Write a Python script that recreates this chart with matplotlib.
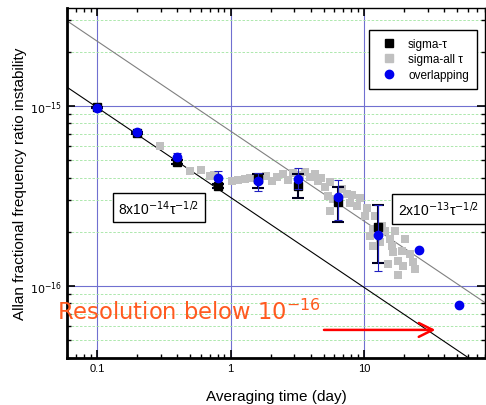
import numpy as np
import matplotlib
matplotlib.use('Agg')
import matplotlib.pyplot as plt
from matplotlib.ticker import LogLocator, NullFormatter, FixedLocator
from matplotlib.lines import Line2D

plt.rcParams['font.family'] = ['Liberation Sans', 'DejaVu Sans']
plt.rcParams['mathtext.fontset'] = 'dejavusans'

# averaging time (day)
tau = [0.1, 0.2, 0.4, 0.8, 1.6, 3.2, 6.4, 12.8]
tau_ov = [0.1, 0.2, 0.4, 0.8, 1.6, 3.2, 6.4, 12.8, 25.6, 51.2]

# sigma-tau (black squares) with error bars
sig = [0.98e-15, 0.71e-15, 0.487e-15, 0.36e-15, 0.393e-15, 0.357e-15, 0.294e-15, 0.212e-15]
sig_lo = [0.97e-15, 0.70e-15, 0.475e-15, 0.35e-15, 0.350e-15, 0.307e-15, 0.226e-15, 0.134e-15]
sig_hi = [0.99e-15, 0.72e-15, 0.50e-15, 0.37e-15, 0.419e-15, 0.419e-15, 0.353e-15, 0.283e-15]

# overlapping (blue circles) with error bars
ov = [0.975e-15, 0.714e-15, 0.519e-15, 0.397e-15, 0.382e-15, 0.393e-15, 0.311e-15, 0.192e-15, 0.159e-15, 0.785e-16]
ov_lo = [0.965e-15, 0.70e-15, 0.505e-15, 0.385e-15, 0.336e-15, 0.346e-15, 0.233e-15, 0.121e-15, 0.159e-15, 0.785e-16]
ov_hi = [0.985e-15, 0.73e-15, 0.548e-15, 0.433e-15, 0.424e-15, 0.451e-15, 0.385e-15, 0.281e-15, 0.159e-15, 0.785e-16]

# sigma-all tau (gray squares)
tau_all = [0.296, 0.497, 0.601, 0.702, 0.75, 1.03, 1.14, 1.28, 1.40, 1.85, 2.05, 2.23, 2.47,
           2.70, 2.94, 3.32, 3.62, 3.94, 4.30, 4.52, 4.76, 5.11, 5.56, 5.37, 5.86, 6.84,
           7.46, 8.13, 7.85, 8.87, 9.34, 5.56, 10.5, 10.2, 12.1, 11.7, 13.6, 14.4, 11.1,
           11.7, 15.7, 16.2, 16.5, 15.1, 18.0, 19.3, 20.3, 22.1, 23.3, 18.0, 19.6, 17.1,
           24.1, 13.2]
sig_all = [0.600, 0.435, 0.441, 0.408, 0.413, 0.383, 0.388, 0.393, 0.398, 0.408, 0.383, 0.403,
           0.419, 0.388, 0.424, 0.414, 0.430, 0.403, 0.419, 0.383, 0.398, 0.355, 0.378,
           0.316, 0.304, 0.346, 0.325, 0.321, 0.289, 0.278, 0.308, 0.261, 0.271, 0.245,
           0.245, 0.207, 0.216, 0.202, 0.190, 0.167, 0.182, 0.167, 0.155, 0.132, 0.138,
           0.156, 0.182, 0.151, 0.136, 0.115, 0.129, 0.202, 0.124, 0.175]
sig_all = [v * 1e-15 for v in sig_all]

# tau^-1/2 guide lines (coefficient at 1 day)
fit_black = 3.1e-16
fit_gray = 7.24e-16

fig = plt.figure(figsize=(4.86, 4.06), dpi=100)
ax = fig.add_axes([0.138, 0.116, 0.86, 0.862])

tt = np.logspace(np.log10(0.05), np.log10(100), 50)
ax.plot(tt, fit_black / np.sqrt(tt), color='black', lw=0.8, zorder=2)
ax.plot(tt, fit_gray / np.sqrt(tt), color='gray', lw=0.8, zorder=2)

ax.scatter(tau_all, sig_all, marker='s', s=40, color='#c0c0c0', zorder=3, linewidths=0)

s_arr = np.array(sig)
ax.errorbar(tau, sig, yerr=[s_arr - np.array(sig_lo), np.array(sig_hi) - s_arr],
            fmt='s', color='black', ms=6, ecolor='#000020', elinewidth=1.5, capsize=4,
            capthick=1.5, zorder=4)
o_arr = np.array(ov)
ax.errorbar(tau_ov, ov, yerr=[o_arr - np.array(ov_lo), np.array(ov_hi) - o_arr],
            fmt='o', color='#0000ee', ms=6, ecolor='#2020c0', elinewidth=0.8, capsize=3,
            capthick=0.8, zorder=5)

ax.set_xscale('log')
ax.set_yscale('log')
ax.set_xlim(0.0596, 80.5)
ax.set_ylim(3.98e-17, 3.5e-15)

ax.xaxis.set_major_locator(FixedLocator([0.1, 1, 10]))
ax.set_xticklabels(['0.1', '1', '10'])
ax.xaxis.set_minor_locator(LogLocator(base=10, subs=np.arange(2, 10)))
ax.xaxis.set_minor_formatter(NullFormatter())
ax.yaxis.set_major_locator(FixedLocator([1e-16, 1e-15]))
ax.set_yticklabels([r'$10^{-16}$', r'$10^{-15}$'])
ax.yaxis.set_minor_locator(LogLocator(base=10, subs=np.arange(2, 10)))
ax.yaxis.set_minor_formatter(NullFormatter())
ax.tick_params(which='both', direction='in', top=True, right=True, labelsize=8)
ax.tick_params(which='major', length=6, width=1.2)
ax.tick_params(which='minor', length=3, width=1)

ax.grid(True, which='major', color='#7070d0', lw=0.8)
ax.grid(True, which='minor', axis='y', color='#a0e4a0', lw=0.6, ls=(0, (3, 2)))
ax.set_axisbelow(True)

for side in ['left', 'bottom']:
    ax.spines[side].set_linewidth(2)
ax.spines['top'].set_linewidth(1)
ax.spines['right'].set_linewidth(1)

ax.set_xlabel('Averaging time (day)', fontsize=11, labelpad=12)
ax.set_ylabel('Allan fractional frequency ratio instability', fontsize=11, labelpad=2)

ax.text(0.22, 0.43, '8x10$^{-14}$\u03c4$^{-1/2}$', transform=ax.transAxes, fontsize=10,
        ha='center', va='center', bbox=dict(boxstyle='square,pad=0.4', fc='white', ec='black', lw=1))
ax.text(0.889, 0.425, '2x10$^{-13}$\u03c4$^{-1/2}$', transform=ax.transAxes, fontsize=10,
        ha='center', va='center', bbox=dict(boxstyle='square,pad=0.4', fc='white', ec='black', lw=1))

handles = [Line2D([], [], marker='s', ls='none', color='black', ms=6),
           Line2D([], [], marker='s', ls='none', color='#c0c0c0', ms=6),
           Line2D([], [], marker='o', ls='none', color='#0000ee', ms=6)]
ax.legend(handles, ['sigma-\u03c4', 'sigma-all \u03c4', 'overlapping'], loc='upper right',
          bbox_to_anchor=(0.995, 0.955), fontsize=8.5, fancybox=False, edgecolor='black',
          framealpha=1, handletextpad=0.6, borderpad=0.7, labelspacing=0.3)

fig.text(0.117, 0.23, 'Resolution below 10$^{-16}$', fontsize=16.3, color='#ff5a1f',
         ha='left', va='center', family='DejaVu Sans')
ax.annotate('', xy=(0.888, 0.08), xytext=(0.608, 0.08), xycoords='axes fraction',
            arrowprops=dict(arrowstyle='->', color='red', lw=1.8, mutation_scale=25))

fig.savefig('out.png', dpi=100)
